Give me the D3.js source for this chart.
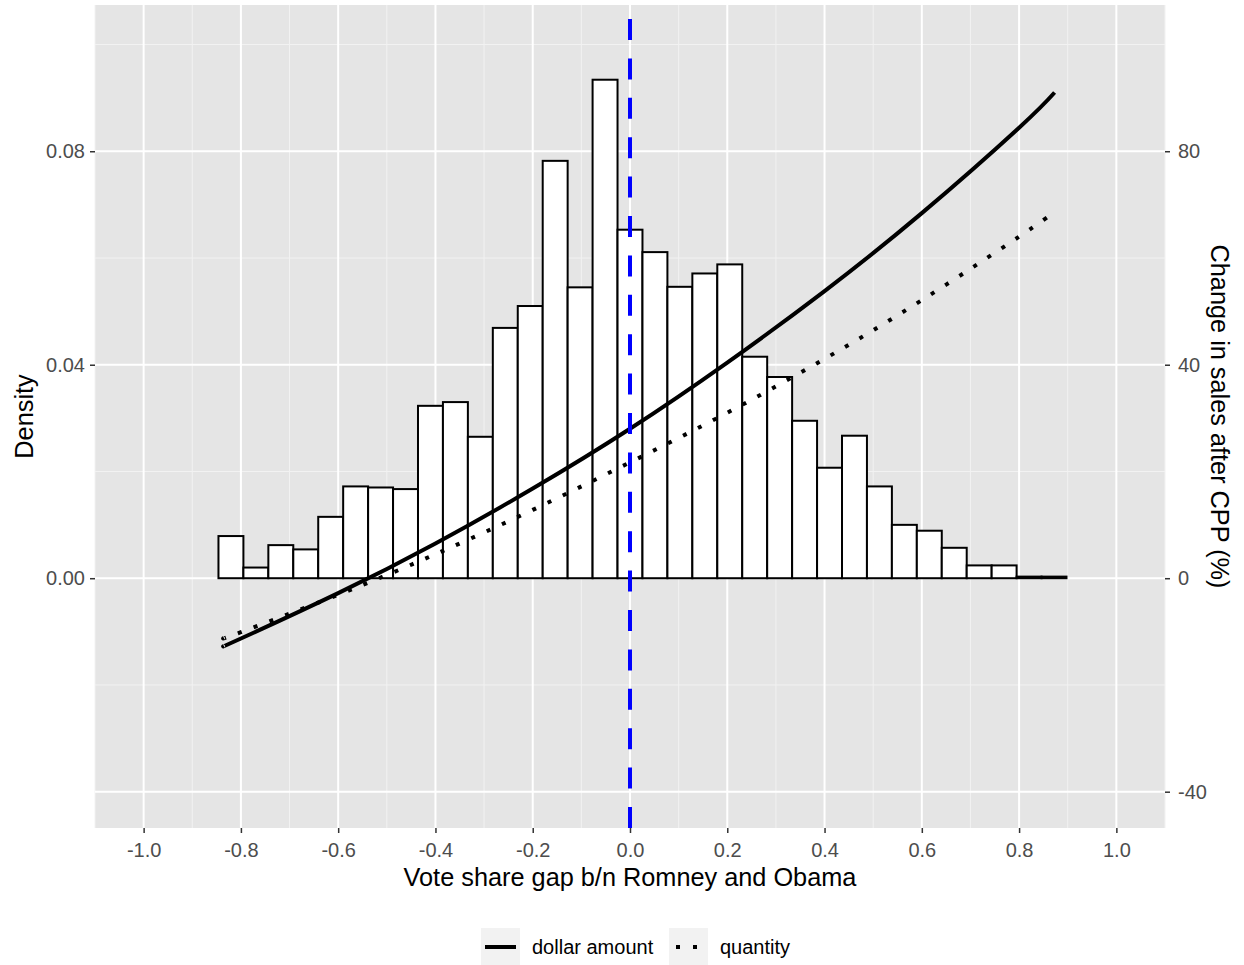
<!DOCTYPE html>
<html>
<head>
<meta charset="utf-8">
<script src="https://cdn.jsdelivr.net/npm/d3@7"></script>
<style>
  body { margin: 0; background: #fff; }
  text { font-family: "Liberation Sans", Arial, sans-serif; }
</style>
</head>
<body>
<div id="chart"></div>
<script>
// histogram: 39 bins of equal width between -1 and 1
var binLo = -1, binHi = 1;
var density = [0, 0, 0,
  0.0079, 0.0020, 0.0062, 0.0054, 0.0115, 0.0172, 0.0170, 0.0167,
  0.0323, 0.0330, 0.0265, 0.0469, 0.0510, 0.0782, 0.0545, 0.0934,
  0.0653, 0.0611, 0.0546, 0.0571, 0.0588, 0.0415, 0.0377, 0.0295,
  0.0207, 0.0267, 0.0172, 0.0100, 0.0089, 0.0057, 0.0024, 0.0024,
  0.0003, 0.0003, 0, 0];

// fitted change in sales (%), right axis
var gapX = [-0.835, -0.8, -0.6, -0.4, -0.2, 0, 0.2, 0.4, 0.6, 0.8, 0.873];
var dollarAmt = [-12.7, -11.3, -2.8, 6.5, 16.8, 28.0, 40.4, 53.8, 68.4, 84.4, 91.0];
var quantity = [-11.2, -10.1, -3.1, 4.5, 12.8, 21.7, 31.0, 41.1, 52.1, 64.0, 68.6];

var xTicks = [-1.0, -0.8, -0.6, -0.4, -0.2, 0.0, 0.2, 0.4, 0.6, 0.8, 1.0];
var yTicks = [0.00, 0.04, 0.08];
var y2Ticks = [-40, 0, 40, 80];

var W = 1244, H = 965;
var panel = {left: 95, right: 1165, top: 5, bottom: 828};

var svg = d3.select("#chart").append("svg")
    .attr("width", W)
    .attr("height", H);

var x = d3.scaleLinear().domain([-1.1, 1.1]).range([panel.left, panel.right]);
var y = d3.scaleLinear().domain([-0.0468, 0.1074]).range([panel.bottom, panel.top]);
var y2 = d3.scaleLinear().domain([-46.8, 107.4]).range([panel.bottom, panel.top]);

// panel background
svg.append("rect")
    .attr("x", panel.left)
    .attr("y", panel.top)
    .attr("width", panel.right - panel.left)
    .attr("height", panel.bottom - panel.top)
    .attr("fill", "#e5e5e5");

// grid
var xMinor = d3.range(-1.1, 1.11, 0.2);
var yMinor = [-0.02, 0.02, 0.06, 0.10];
var yMajor = [-0.04, 0.00, 0.04, 0.08];

svg.selectAll(".xminor").data(xMinor).enter().append("line")
    .attr("x1", function(d) { return x(d); }).attr("x2", function(d) { return x(d); })
    .attr("y1", panel.top).attr("y2", panel.bottom)
    .attr("stroke", "#f2f2f2").attr("stroke-width", 1);
svg.selectAll(".yminor").data(yMinor).enter().append("line")
    .attr("x1", panel.left).attr("x2", panel.right)
    .attr("y1", function(d) { return y(d); }).attr("y2", function(d) { return y(d); })
    .attr("stroke", "#f2f2f2").attr("stroke-width", 1);
svg.selectAll(".xmajor").data(xTicks).enter().append("line")
    .attr("x1", function(d) { return x(d); }).attr("x2", function(d) { return x(d); })
    .attr("y1", panel.top).attr("y2", panel.bottom)
    .attr("stroke", "#fff").attr("stroke-width", 2);
svg.selectAll(".ymajor").data(yMajor).enter().append("line")
    .attr("x1", panel.left).attr("x2", panel.right)
    .attr("y1", function(d) { return y(d); }).attr("y2", function(d) { return y(d); })
    .attr("stroke", "#fff").attr("stroke-width", 2);

// histogram bars
var bw = (binHi - binLo) / density.length;
svg.append("g").selectAll("rect").data(density).enter().append("rect")
    .attr("x", function(d, i) { return x(binLo + i * bw); })
    .attr("width", function(d, i) { return x(binLo + (i + 1) * bw) - x(binLo + i * bw); })
    .attr("y", function(d) { return y(d); })
    .attr("height", function(d) { return y(0) - y(d); })
    .attr("fill", "#fff")
    .attr("stroke", "#000")
    .attr("stroke-width", 2);

// curves
var line = function(vals) {
    return d3.line()
        .x(function(d, i) { return x(gapX[i]); })
        .y(function(d) { return y2(d); })
        .curve(d3.curveNatural)(vals);
};

svg.append("path")
    .attr("d", line(quantity))
    .attr("fill", "none")
    .attr("stroke", "#000")
    .attr("stroke-width", 4)
    .attr("stroke-dasharray", "4,12.8");

svg.append("path")
    .attr("d", line(dollarAmt))
    .attr("fill", "none")
    .attr("stroke", "#000")
    .attr("stroke-width", 4);

// vertical reference line at 0
svg.append("line")
    .attr("x1", x(0)).attr("x2", x(0))
    .attr("y1", panel.top).attr("y2", panel.bottom)
    .attr("stroke", "#0000ff")
    .attr("stroke-width", 4)
    .attr("stroke-dasharray", "21,18.4")
    .attr("stroke-dashoffset", 25.4);

// axes
var axisCol = "#333333";
var labCol = "#4d4d4d";
var hyphen = function(f) { return function(d) { return f(d).replace("\u2212", "-"); }; };

var xAxis = svg.append("g")
    .attr("transform", "translate(0," + panel.bottom + ")")
    .call(d3.axisBottom(x).tickValues(xTicks).tickFormat(hyphen(d3.format(".1f"))).tickSize(5).tickPadding(10));
var yAxis = svg.append("g")
    .attr("transform", "translate(" + panel.left + ",0)")
    .call(d3.axisLeft(y).tickValues(yTicks).tickFormat(d3.format(".2f")).tickSize(5).tickPadding(5));
var y2Axis = svg.append("g")
    .attr("transform", "translate(" + panel.right + ",0)")
    .call(d3.axisRight(y2).tickValues(y2Ticks).tickFormat(hyphen(d3.format("d"))).tickSize(5).tickPadding(8));

[xAxis, yAxis, y2Axis].forEach(function(a) {
    a.select(".domain").remove();
    a.selectAll(".tick line").attr("stroke", axisCol).attr("stroke-width", 1.5);
    a.selectAll(".tick text")
        .attr("fill", labCol)
        .attr("font-size", "20px")
        .attr("font-family", "Liberation Sans, Arial, sans-serif");
});

// axis titles
svg.append("text")
    .attr("x", x(0))
    .attr("y", 886)
    .attr("text-anchor", "middle")
    .attr("font-size", "25.3px")
    .text("Vote share gap b/n Romney and Obama");

svg.append("text")
    .attr("transform", "translate(33," + (panel.top + panel.bottom) / 2 + ") rotate(-90)")
    .attr("text-anchor", "middle")
    .attr("font-size", "25.3px")
    .text("Density");

svg.append("text")
    .attr("transform", "translate(1211," + (panel.top + panel.bottom) / 2 + ") rotate(90)")
    .attr("text-anchor", "middle")
    .attr("font-size", "25.3px")
    .text("Change in sales after CPP (%)");

// legend
var legendItems = [
    {label: "dollar amount", dash: null, x: 481, x1: 4, x2: 35},
    {label: "quantity", dash: "4,13", x: 669, x1: 7, x2: 30}
];
var lg = svg.append("g").selectAll("g").data(legendItems).enter().append("g")
    .attr("transform", function(d) { return "translate(" + d.x + ",928)"; });
lg.append("rect")
    .attr("width", 39)
    .attr("height", 37)
    .attr("fill", "#f2f2f2");
lg.append("line")
    .attr("x1", function(d) { return d.x1; }).attr("x2", function(d) { return d.x2; })
    .attr("y1", 19).attr("y2", 19)
    .attr("stroke", "#000")
    .attr("stroke-width", 4)
    .attr("stroke-dasharray", function(d) { return d.dash; });
lg.append("text")
    .attr("x", 51)
    .attr("y", 26)
    .attr("font-size", "20px")
    .text(function(d) { return d.label; });
</script>
</body>
</html>
